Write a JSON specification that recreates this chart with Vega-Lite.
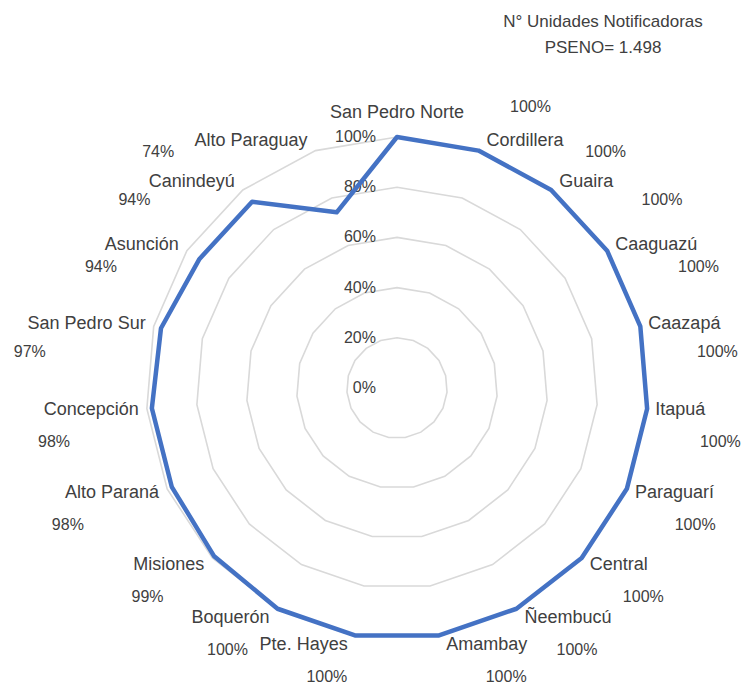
{
  "$schema": "https://vega.github.io/schema/vega-lite/v6.json",
  "width": 744,
  "height": 688,
  "autosize": "none",
  "padding": 0,
  "background": "white",
  "config": {"view": {"stroke": null}, "font": "Liberation Sans"},
  "title": {
    "text": ["N° Unidades Notificadoras", "PSENO= 1.498"],
    "orient": "top",
    "anchor": "start",
    "frame": "group",
    "align": "center",
    "dx": 603,
    "offset": -57,
    "fontSize": 17,
    "fontWeight": "normal",
    "font": "Liberation Sans",
    "color": "#404040",
    "lineHeight": 26
  },
  "datasets": {
    "regions": [
      {"idx": 0, "name": "San Pedro Norte", "v": 100},
      {"idx": 1, "name": "Cordillera", "v": 100},
      {"idx": 2, "name": "Guaira", "v": 100},
      {"idx": 3, "name": "Caaguazú", "v": 100},
      {"idx": 4, "name": "Caazapá", "v": 100},
      {"idx": 5, "name": "Itapuá", "v": 100},
      {"idx": 6, "name": "Paraguarí", "v": 100},
      {"idx": 7, "name": "Central", "v": 100},
      {"idx": 8, "name": "Ñeembucú", "v": 100},
      {"idx": 9, "name": "Amambay", "v": 100},
      {"idx": 10, "name": "Pte. Hayes", "v": 100},
      {"idx": 11, "name": "Boquerón", "v": 100},
      {"idx": 12, "name": "Misiones", "v": 99},
      {"idx": 13, "name": "Alto Paraná", "v": 98},
      {"idx": 14, "name": "Concepción", "v": 98},
      {"idx": 15, "name": "San Pedro Sur", "v": 97},
      {"idx": 16, "name": "Asunción", "v": 94},
      {"idx": 17, "name": "Canindeyú", "v": 94},
      {"idx": 18, "name": "Alto Paraguay", "v": 74}
    ],
    "ticks": [
      {"t": 0, "label": "0%"},
      {"t": 20, "label": "20%"},
      {"t": 40, "label": "40%"},
      {"t": 60, "label": "60%"},
      {"t": 80, "label": "80%"},
      {"t": 100, "label": "100%"}
    ]
  },
  "layer": [
    {
      "data": {"name": "regions"},
      "transform": [
        {"calculate": "datum.idx * 2 * PI / 19", "as": "a"},
        {"calculate": "sin(datum.a)", "as": "s"},
        {"calculate": "cos(datum.a)", "as": "c"},
        {"calculate": "[20,40,60,80,100]", "as": "lv"},
        {"flatten": ["lv"]},
        {"calculate": "datum.lv * datum.s", "as": "gx"},
        {"calculate": "datum.lv * datum.c", "as": "gy"}
      ],
      "mark": {"type": "line", "interpolate": "linear-closed", "stroke": "#d9d9d9", "strokeWidth": 1.6},
      "encoding": {
        "x": {"field": "gx", "type": "quantitative", "axis": null, "scale": {"domain": [-158.17, 138.25], "nice": false, "zero": false}},
        "y": {"field": "gy", "type": "quantitative", "axis": null, "scale": {"domain": [-119.52, 154.58], "nice": false, "zero": false}},
        "detail": {"field": "lv", "type": "nominal"},
        "order": {"field": "idx", "type": "quantitative"}
      }
    },
    {
      "data": {"name": "ticks"},
      "mark": {"type": "text", "align": "right", "baseline": "middle", "fontSize": 16, "color": "#404040"},
      "encoding": {
        "x": {"datum": -8.4, "type": "quantitative", "axis": null, "scale": {"domain": [-158.17, 138.25], "nice": false, "zero": false}},
        "y": {"field": "t", "type": "quantitative", "axis": null, "scale": {"domain": [-119.52, 154.58], "nice": false, "zero": false}},
        "text": {"field": "label"}
      }
    },
    {
      "data": {"name": "regions"},
      "transform": [
        {"calculate": "datum.idx * 2 * PI / 19", "as": "a"},
        {"calculate": "datum.v * sin(datum.a)", "as": "px"},
        {"calculate": "datum.v * cos(datum.a)", "as": "py"}
      ],
      "mark": {"type": "line", "interpolate": "linear-closed", "stroke": "#4472C4", "strokeWidth": 4.5, "strokeJoin": "round"},
      "encoding": {
        "x": {"field": "px", "type": "quantitative", "axis": null, "scale": {"domain": [-158.17, 138.25], "nice": false, "zero": false}},
        "y": {"field": "py", "type": "quantitative", "axis": null, "scale": {"domain": [-119.52, 154.58], "nice": false, "zero": false}},
        "order": {"field": "idx", "type": "quantitative"}
      }
    },
    {
      "data": {"name": "regions"},
      "transform": [
        {"calculate": "datum.idx * 2 * PI / 19", "as": "a"},
        {"calculate": "sin(datum.a)", "as": "s"},
        {"calculate": "cos(datum.a)", "as": "c"},
        {"filter": "datum.s > 0.05"},
        {"calculate": "100 * datum.s + 3.2", "as": "lx"},
        {"calculate": "104 * datum.c", "as": "ly"}
      ],
      "mark": {"type": "text", "align": "left", "baseline": "middle", "fontSize": 18, "color": "#404040"},
      "encoding": {
        "x": {"field": "lx", "type": "quantitative", "axis": null, "scale": {"domain": [-158.17, 138.25], "nice": false, "zero": false}},
        "y": {"field": "ly", "type": "quantitative", "axis": null, "scale": {"domain": [-119.52, 154.58], "nice": false, "zero": false}},
        "text": {"field": "name"}
      }
    },
    {
      "data": {"name": "regions"},
      "transform": [
        {"calculate": "datum.idx * 2 * PI / 19", "as": "a"},
        {"calculate": "sin(datum.a)", "as": "s"},
        {"calculate": "cos(datum.a)", "as": "c"},
        {"filter": "datum.s < -0.05"},
        {"calculate": "100 * datum.s - 3.2", "as": "lx"},
        {"calculate": "104 * datum.c", "as": "ly"}
      ],
      "mark": {"type": "text", "align": "right", "baseline": "middle", "fontSize": 18, "color": "#404040"},
      "encoding": {
        "x": {"field": "lx", "type": "quantitative", "axis": null, "scale": {"domain": [-158.17, 138.25], "nice": false, "zero": false}},
        "y": {"field": "ly", "type": "quantitative", "axis": null, "scale": {"domain": [-119.52, 154.58], "nice": false, "zero": false}},
        "text": {"field": "name"}
      }
    },
    {
      "data": {"name": "regions"},
      "transform": [
        {"calculate": "datum.idx * 2 * PI / 19", "as": "a"},
        {"calculate": "sin(datum.a)", "as": "s"},
        {"calculate": "cos(datum.a)", "as": "c"},
        {"filter": "abs(datum.s) <= 0.05"},
        {"calculate": "100 * datum.s", "as": "lx"},
        {"calculate": "104 * datum.c", "as": "ly"}
      ],
      "mark": {"type": "text", "align": "center", "baseline": "middle", "dy": -14, "fontSize": 18, "color": "#404040"},
      "encoding": {
        "x": {"field": "lx", "type": "quantitative", "axis": null, "scale": {"domain": [-158.17, 138.25], "nice": false, "zero": false}},
        "y": {"field": "ly", "type": "quantitative", "axis": null, "scale": {"domain": [-119.52, 154.58], "nice": false, "zero": false}},
        "text": {"field": "name"}
      }
    },
    {
      "data": {"name": "regions"},
      "transform": [
        {"calculate": "datum.idx * 2 * PI / 19", "as": "a"},
        {"calculate": "sin(datum.a)", "as": "s"},
        {"calculate": "cos(datum.a)", "as": "c"},
        {"calculate": "datum.s > -0.01 ? 251 * datum.s + 53 + 60 * pow(max(datum.c, 0), 2) - 35 * pow(max(-datum.c, 0), 2) * datum.s : 251 * datum.s - 14 - 9.5 * length(datum.name) - 40 * pow(max(datum.c, 0), 2) + 20 * pow(max(-datum.c, 0), 2) + 53 * pow(max(-datum.c, 0), 20)", "as": "vxp"},
        {"calculate": "-251 * datum.c + 32 - 28 * max(datum.c, 0) - 34 * pow(max(datum.c, 0), 40) + 10 * max(-datum.c, 0)", "as": "vyp"},
        {"calculate": "datum.vxp / 2.51", "as": "vx"},
        {"calculate": "-datum.vyp / 2.51", "as": "vy"},
        {"calculate": "datum.v + '%'", "as": "vl"}
      ],
      "mark": {"type": "text", "align": "left", "baseline": "middle", "fontSize": 16, "color": "#404040"},
      "encoding": {
        "x": {"field": "vx", "type": "quantitative", "axis": null, "scale": {"domain": [-158.17, 138.25], "nice": false, "zero": false}},
        "y": {"field": "vy", "type": "quantitative", "axis": null, "scale": {"domain": [-119.52, 154.58], "nice": false, "zero": false}},
        "text": {"field": "vl"}
      }
    }
  ]
}
